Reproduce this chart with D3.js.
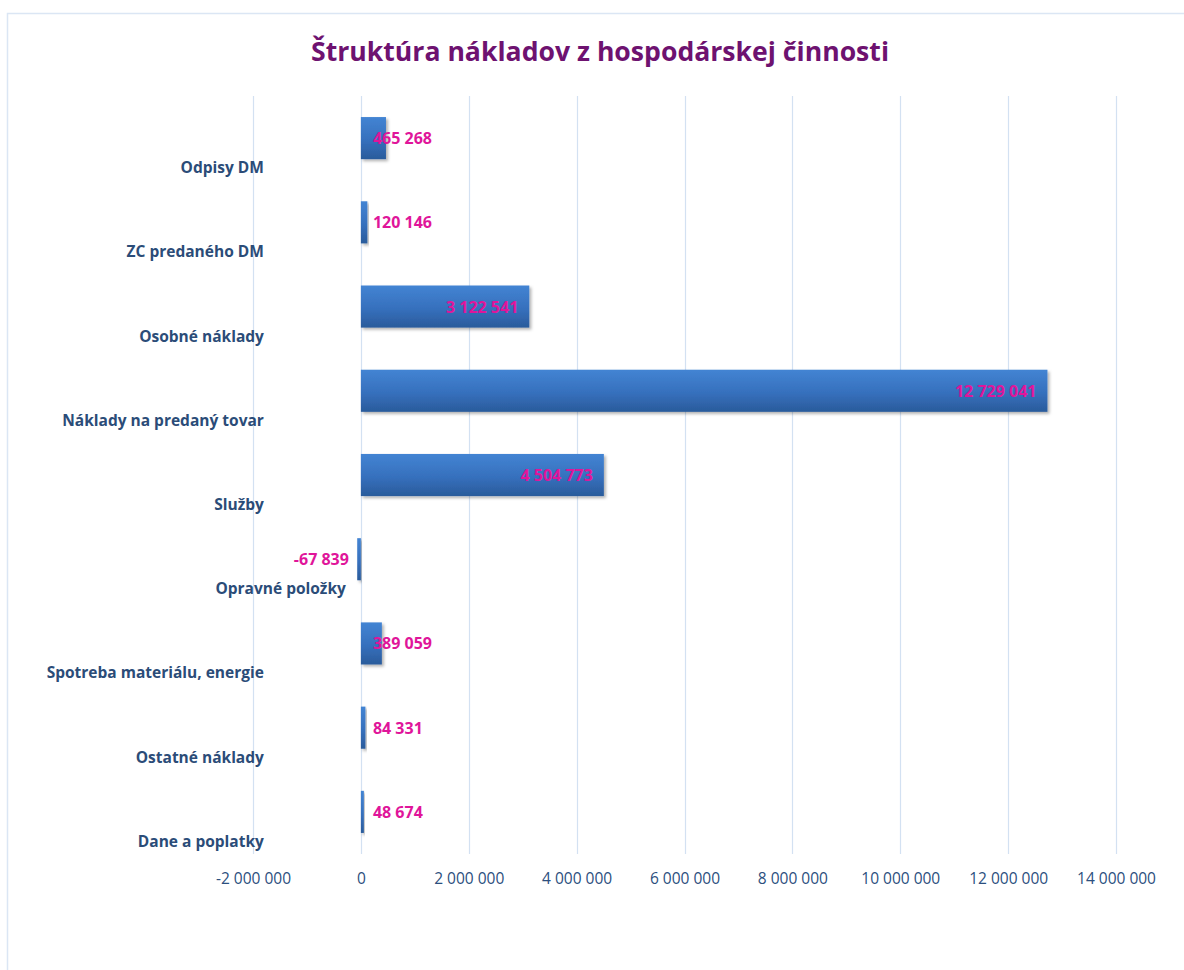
<!DOCTYPE html>
<html>
<head>
<meta charset="utf-8">
<script src="https://cdn.jsdelivr.net/npm/d3@7"></script>
<style>
  body { margin: 0; background: #fff; }
  svg { display: block; }
</style>
</head>
<body>
<script>
// categories, top to bottom
var categories = [
  "Odpisy DM",
  "ZC predaného DM",
  "Osobné náklady",
  "Náklady na predaný tovar",
  "Služby",
  "Opravné položky",
  "Spotreba materiálu, energie",
  "Ostatné náklady",
  "Dane a poplatky"
];
var values = [465268, 120146, 3122541, 12729041, 4504773, -67839, 389059, 84331, 48674];
var tickValues = [-2000000, 0, 2000000, 4000000, 6000000, 8000000, 10000000, 12000000, 14000000];
var title = "Štruktúra nákladov z hospodárskej činnosti";

var width = 1184, height = 970;
var margin = {top: 96, right: 68, bottom: 116, left: 253};

// space as thousands separator, plain hyphen for negatives
var fmt = function(v) {
  return d3.format(",")(v).replace(/,/g, "\u00a0").replace("\u2212", "-");
};

var svg = d3.select("body").append("svg")
  .attr("width", width)
  .attr("height", height);

// outer chart border (cut off at right/bottom like the screenshot)
svg.append("rect")
  .attr("x", 7.5).attr("y", 13.5)
  .attr("width", width).attr("height", height)
  .attr("fill", "none")
  .attr("stroke", "#dbe6f4")
  .attr("stroke-width", 1.5);

var defs = svg.append("defs");
var grad = defs.append("linearGradient")
  .attr("id", "barGrad")
  .attr("x1", 0).attr("y1", 0).attr("x2", 0).attr("y2", 1);
grad.append("stop").attr("offset", "0%").attr("stop-color", "#4384d3");
grad.append("stop").attr("offset", "55%").attr("stop-color", "#3670bd");
grad.append("stop").attr("offset", "100%").attr("stop-color", "#2a5b9b");

var shadow = defs.append("filter").attr("id", "shadow")
  .attr("x", "-10%").attr("y", "-10%").attr("width", "130%").attr("height", "140%");
shadow.append("feDropShadow")
  .attr("dx", 2).attr("dy", 2).attr("stdDeviation", 1.5)
  .attr("flood-color", "#000").attr("flood-opacity", 0.3);

var x = d3.scaleLinear()
  .domain([-2000000, 14000000])
  .range([margin.left, width - margin.right]);

var y = d3.scaleBand()
  .domain(categories)
  .range([margin.top, height - margin.bottom])
  .padding(0.5)
  .paddingOuter(0.25);

// gridlines
svg.append("g")
  .selectAll("line")
  .data(tickValues)
  .enter().append("line")
  .attr("x1", function(d) { return Math.round(x(d)) + 0.5; })
  .attr("x2", function(d) { return Math.round(x(d)) + 0.5; })
  .attr("y1", margin.top)
  .attr("y2", height - margin.bottom)
  .attr("stroke", "#d3e1f2")
  .attr("stroke-width", 1.2);

// x axis labels
var xAxis = d3.axisBottom(x)
  .tickValues(tickValues)
  .tickSize(0)
  .tickPadding(0)
  .tickFormat(fmt);

var gx = svg.append("g")
  .attr("transform", "translate(0," + (height - margin.bottom + 30) + ")")
  .call(xAxis);
gx.select(".domain").remove();
gx.selectAll("text")
  .attr("dy", 0)
  .attr("font-family", "'Open Sans', sans-serif")
  .attr("font-size", 15.5)
  .attr("fill", "#2c4f7e");

// bars
svg.append("g")
  .selectAll("rect")
  .data(values)
  .enter().append("rect")
  .attr("x", function(d) { return x(Math.min(0, d)); })
  .attr("y", function(d, i) { return y(categories[i]); })
  .attr("width", function(d) { return Math.max(3, Math.abs(x(d) - x(0))); })
  .attr("height", y.bandwidth())
  .attr("fill", "url(#barGrad)")
  .attr("filter", "url(#shadow)");

// category labels (sit below the bar, like the 3D excel layout)
svg.append("g")
  .selectAll("text")
  .data(categories)
  .enter().append("text")
  .attr("x", function(d, i) { return values[i] < 0 ? x(0) - 15 : x(0) - 97; })
  .attr("y", function(d) { return y(d) + y.bandwidth() / 2 + 35; })
  .attr("text-anchor", "end")
  .attr("font-family", "'Open Sans', sans-serif")
  .attr("font-weight", "bold")
  .attr("font-size", 15.5)
  .attr("fill", "#2b4c78")
  .text(function(d) { return d; });

// value labels
var vlab = svg.append("g")
  .selectAll("text")
  .data(values)
  .enter().append("text")
  .attr("y", function(d, i) { return y(categories[i]) + y.bandwidth() / 2 + 6; })
  .attr("font-family", "'Open Sans', sans-serif")
  .attr("font-weight", "bold")
  .attr("font-size", 16)
  .attr("fill", "#e0159a")
  .text(fmt);

vlab.each(function(d) {
  var t = d3.select(this);
  var w = this.getComputedTextLength();
  if (d < 0) {
    t.attr("x", x(0) - 12).attr("text-anchor", "end");
  } else {
    var end = x(d) - 11;
    var minEnd = x(0) + 12 + w;
    t.attr("x", Math.max(end, minEnd)).attr("text-anchor", "end");
  }
});

// title
svg.append("text")
  .attr("x", 600)
  .attr("y", 61)
  .attr("text-anchor", "middle")
  .attr("font-family", "'Open Sans', sans-serif")
  .attr("font-weight", "bold")
  .attr("font-size", 27)
  .attr("textLength", 578)
  .attr("lengthAdjust", "spacingAndGlyphs")
  .attr("fill", "#6e1270")
  .text(title);
</script>
</body>
</html>
